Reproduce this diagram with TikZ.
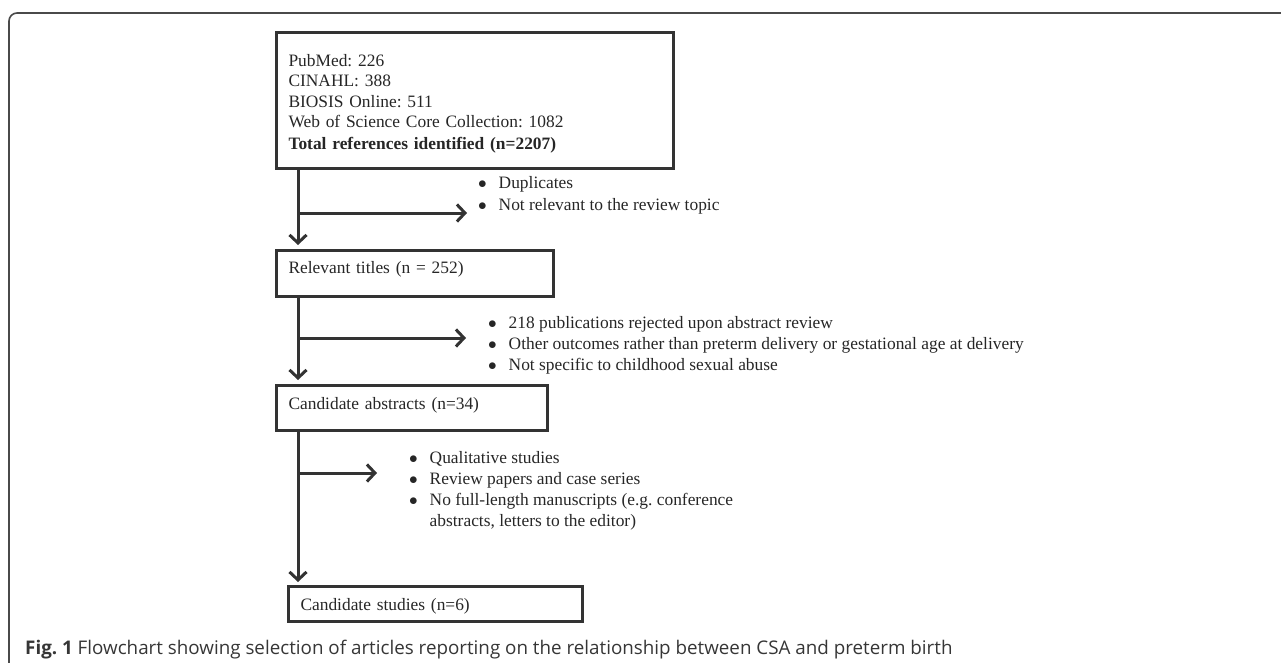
\documentclass[tikz,border=0pt]{standalone}
\usepackage{fontspec}
\setmainfont{Liberation Serif}
\newfontfamily\capfont{Open Sans}
\usetikzlibrary{arrows.meta}
\frenchspacing

\definecolor{flowgray}{HTML}{333333}
\definecolor{framegray}{HTML}{4A4A4A}
\definecolor{inkgray}{HTML}{262626}
\definecolor{capgray}{HTML}{363636}

\tikzset{
  stagebox/.style={draw=flowgray, line width=3pt, anchor=north west, inner xsep=12pt, inner ysep=0pt,
    align=left, text=inkgray, font=\fontsize{17.4}{20.5}\selectfont},
  flow/.style={draw=flowgray, line width=3pt, -{Straight Barb[length=8pt,width=17pt]}},
  reasons/.style={anchor=base west, inner sep=0pt, text=inkgray, font=\fontsize{17.4}{21}\selectfont},
}
\newcommand{\reasonlist}[1]{\begin{tabular}[t]{@{}p{20.5pt}@{}l@{}}#1\end{tabular}}
\newcommand{\bulletmark}{$\bullet$}

\begin{document}
\begin{tikzpicture}[x=1pt, y=-1pt]
    \useasboundingbox (0, 0) rectangle (1281, 663);
    % frame of the figure
    \draw[framegray, line width=1.6pt, rounded corners=8pt] (9, 663) -- (9, 13) -- (1281, 13);

    % stages
    \node[stagebox, text width=373pt, text height=34pt, text depth=102pt] (src) at (275, 31)
        {PubMed: 226\\CINAHL: 388\\BIOSIS Online: 511\\Web of Science Core Collection: 1082\\[1.5pt]
         \textbf{Total references identified (n=2207)}};
    \node[stagebox, text width=253pt, text height=23pt, text depth=23pt] (rel) at (275, 249) {Relevant titles (n = 252)};
    \node[stagebox, text width=247pt, text height=24pt, text depth=21pt] (abs) at (275, 384) {Candidate abstracts (n=34)};
    \node[stagebox, text width=270pt, text height=24pt, text depth=11pt] (stu) at (287, 585) {Candidate studies (n=6)};

    % exclusions
    \node[reasons] (ex1) at (478, 189) {\reasonlist{\bulletmark & Duplicates\\ \bulletmark & Not relevant to the review topic}};
    \node[reasons] (ex2) at (488, 328) {\reasonlist{\bulletmark & 218 publications rejected upon abstract review\\
        \bulletmark & Other outcomes rather than preterm delivery or gestational age at delivery\\
        \bulletmark & Not specific to childhood sexual abuse}};
    \node[reasons] (ex3) at (409, 463) {\reasonlist{\bulletmark & Qualitative studies\\ \bulletmark & Review papers and case series\\
        \bulletmark & No full-length manuscripts (e.g. conference\\ & abstracts, letters to the editor)}};

    % main flow
    \coordinate (trk) at (298, 0);
    \draw[flow, shorten >=4pt] (src.south -| trk) -- (rel.north -| trk);
    \draw[flow, shorten >=4pt] (rel.south -| trk) -- (abs.north -| trk);
    \draw[flow, shorten >=3pt] (abs.south -| trk) -- (stu.north -| trk);

    % branches
    \coordinate (j1) at (298, 213);
    \coordinate (e1) at (467, 213);
    \coordinate (j2) at (298, 338);
    \coordinate (e2) at (466, 338);
    \coordinate (j3) at (298, 473);
    \coordinate (e3) at (377, 473);
    \draw[flow] (j1) -- (e1);
    \draw[flow] (j2) -- (e2);
    \draw[flow] (j3) -- (e3);

    \node[anchor=base west, inner sep=0pt, text=capgray, font=\capfont\fontsize{18.8}{22}\selectfont] (cap) at (25, 654)
        {\textbf{Fig. 1} Flowchart showing selection of articles reporting on the relationship between CSA and preterm birth};
\end{tikzpicture}
\end{document}
